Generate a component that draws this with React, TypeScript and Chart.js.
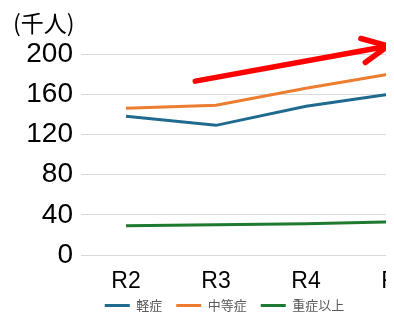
import React, { useEffect, useRef } from "react";
import { Chart, registerables } from "chart.js";

Chart.register(...registerables);

const categories = ["R2", "R3", "R4", "R5"];
const mildValues = [138, 129, 148, 161];
const moderateValues = [146, 149, 166, 181];
const severeValues = [29, 30, 31, 33];
const seriesNames = ["軽症", "中等症", "重症以上"];
const yTicks = [0, 40, 80, 120, 160, 200];
const unitLabel = "(千人)";
// arrow annotation in data coordinates: [category index, value]
const arrowTail = [0.77, 173];
const arrowTip = [2.91, 208];

const arrowPlugin = {
  id: "arrowAndUnit",
  afterLayout(chart: any) {
    const lg = chart.legend;
    if (lg) {
      lg.top -= 11;
      lg.bottom -= 11;
    }
  },
  afterDatasetsDraw(chart: any) {
    const { ctx, scales } = chart;
    const x = scales.x;
    const y = scales.y;
    const px = (i: number) => x.getPixelForValue(0) + i * (x.getPixelForValue(1) - x.getPixelForValue(0));
    const x0 = px(arrowTail[0]);
    const y0 = y.getPixelForValue(arrowTail[1]);
    const x1 = px(arrowTip[0]);
    const y1 = y.getPixelForValue(arrowTip[1]);
    ctx.save();
    ctx.strokeStyle = "#FF0000";
    ctx.lineWidth = 5.5;
    ctx.lineCap = "round";
    ctx.lineJoin = "round";
    ctx.beginPath();
    ctx.moveTo(x0, y0);
    ctx.lineTo(x1 - 2, y1 + 0.5);
    ctx.stroke();
    const ang = Math.atan2(y1 - y0, x1 - x0);
    const len = 28;
    const spread = 0.45;
    ctx.beginPath();
    ctx.moveTo(x1 - len * Math.cos(ang - spread), y1 - len * Math.sin(ang - spread));
    ctx.lineTo(x1, y1);
    ctx.lineTo(x1 - len * Math.cos(ang + spread), y1 - len * Math.sin(ang + spread));
    ctx.stroke();
    ctx.restore();
  },
  afterDraw(chart: any) {
    const { ctx } = chart;
    ctx.save();
    ctx.fillStyle = "#000000";
    ctx.font = "23px 'Noto Sans CJK JP'";
    ctx.textBaseline = "middle";
    ctx.textAlign = "left";
    ctx.fillText(unitLabel, 5, 15);
    ctx.restore();
  },
};

export default function App() {
  const ref = useRef<HTMLCanvasElement>(null);
  useEffect(() => {
    if (!ref.current) return;
    const chart = new Chart(ref.current, {
      type: "line",
      data: {
        labels: categories,
        datasets: [
          { label: seriesNames[0], data: mildValues, borderColor: "#1F6A8E", backgroundColor: "#1F6A8E", borderWidth: 3, pointRadius: 0, tension: 0 },
          { label: seriesNames[1], data: moderateValues, borderColor: "#ED7D31", backgroundColor: "#ED7D31", borderWidth: 3, pointRadius: 0, tension: 0 },
          { label: seriesNames[2], data: severeValues, borderColor: "#1E7A2E", backgroundColor: "#1E7A2E", borderWidth: 3, pointRadius: 0, tension: 0 },
        ],
      },
      options: {
        responsive: false,
        animation: false,
        layout: { padding: { top: 46, left: 0, right: 0, bottom: -18 } },
        plugins: {
          tooltip: { enabled: false },
          legend: {
            position: "bottom",
            labels: {
              usePointStyle: true,
              pointStyle: "line",
              pointStyleWidth: 25,
              padding: 14,
              color: "#595959",
              font: { family: "'Noto Sans CJK JP'", size: 13 },
            },
          },
        },
        scales: {
          x: {
            offset: true,
            grid: { display: false, drawTicks: false },
            border: { display: true, color: "#D9D9D9", width: 1 },
            ticks: { color: "#000000", padding: 13, font: { family: "'Liberation Sans'", size: 23 } },
            afterFit: (s: any) => { s.height = 41; },
          },
          y: {
            min: 0,
            max: 200,
            afterBuildTicks: (s: any) => { s.ticks = yTicks.map((v) => ({ value: v })); },
            grid: { color: "#D9D9D9", lineWidth: 1, drawTicks: false },
            border: { display: false },
            ticks: { color: "#000000", padding: 8, font: { family: "'Liberation Sans'", size: 28 } },
            afterFit: (s: any) => { s.width = 73; },
          },
        },
      },
      plugins: [arrowPlugin],
    });
    return () => chart.destroy();
  }, []);
  return (
    <div style={{ width: 386, height: 307, overflow: "hidden" }}>
      <canvas ref={ref} width={433} height={307} style={{ display: "block" }} />
    </div>
  );
}
